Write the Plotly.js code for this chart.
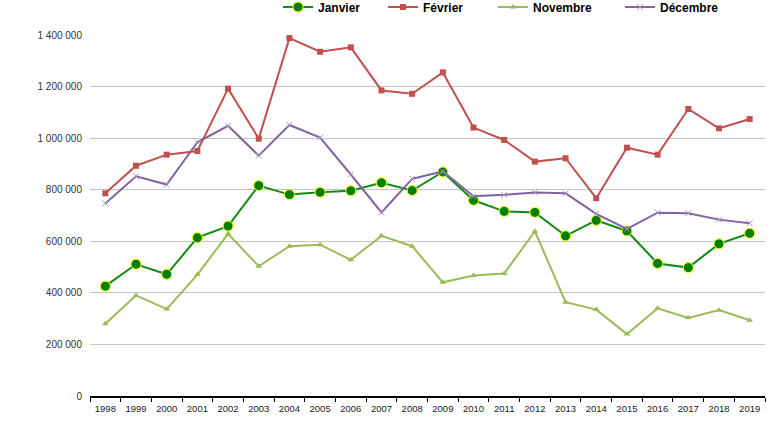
<!DOCTYPE html>
<html>
<head>
<meta charset="utf-8">
<script src="https://cdn.plot.ly/plotly-3.0.1.min.js"></script>
<style>html,body{margin:0;padding:0;background:#fff;}#chart{width:770px;height:437px;}</style>
</head>
<body>
<div id="chart"></div>
<script>
const years = ["1998","1999","2000","2001","2002","2003","2004","2005","2006","2007","2008","2009","2010","2011","2012","2013","2014","2015","2016","2017","2018","2019"];
const janvier = [426000, 511000, 472000, 614000, 659000, 816000, 781000, 790000, 796000, 827000, 797000, 869000, 759000, 716000, 712000, 621000, 681000, 640000, 514000, 498000, 590000, 631000];
const fevrier = [786000, 893000, 936000, 950000, 1192000, 998000, 1388000, 1335000, 1352000, 1185000, 1172000, 1255000, 1041000, 993000, 909000, 922000, 767000, 963000, 936000, 1113000, 1038000, 1074000];
const novembre = [280000, 390000, 337000, 471000, 629000, 503000, 581000, 587000, 528000, 621000, 581000, 441000, 467000, 475000, 639000, 364000, 335000, 240000, 340000, 303000, 333000, 294000];
const decembre = [747000, 852000, 820000, 984000, 1048000, 932000, 1051000, 1002000, 859000, 712000, 842000, 871000, 775000, 780000, 789000, 786000, 706000, 648000, 711000, 709000, 684000, 670000];
const seriesNames = ["Janvier", "Février", "Novembre", "Décembre"];

const FONT = '"Liberation Sans", Arial, sans-serif';

const traces = [
  {x: years, y: janvier, name: seriesNames[0], type: 'scatter', mode: 'lines+markers', legend: 'legend',
   line: {color: '#138a13', width: 2},
   marker: {symbol: 'circle', size: 10, color: '#008000', line: {color: '#ffff00', width: 1}}},
  {x: years, y: fevrier, name: seriesNames[1], type: 'scatter', mode: 'lines+markers', legend: 'legend2',
   line: {color: '#c0504d', width: 2},
   marker: {symbol: 'square', size: 6, color: '#c0504d'}},
  {x: years, y: novembre, name: seriesNames[2], type: 'scatter', mode: 'lines+markers', legend: 'legend3',
   line: {color: '#9bbb59', width: 2},
   marker: {symbol: 'triangle-up', size: 6, color: '#9bbb59'}},
  {x: years, y: decembre, name: seriesNames[3], type: 'scatter', mode: 'lines+markers', legend: 'legend4',
   line: {color: '#8064a2', width: 2},
   marker: {symbol: 'x-thin', size: 6, color: '#a898c8', line: {color: '#a898c8', width: 1}}}
];

function leg(x) {
  return {x: x, y: 1 - 7/437, xref: 'container', yref: 'container', xanchor: 'left', yanchor: 'middle',
    orientation: 'h', bgcolor: 'rgba(0,0,0,0)', borderwidth: 0, itemwidth: 30,
    font: {family: FONT, size: 12, color: '#000', weight: 'bold'}};
}

const layout = {
  width: 770, height: 437,
  margin: {l: 90, r: 5, t: 35, b: 41},
  paper_bgcolor: '#fff', plot_bgcolor: '#fff',
  separators: ', ',
  font: {family: FONT, color: '#333'},
  showlegend: true,
  legend: leg(278/770),
  legend2: leg(383/770),
  legend3: leg(493/770),
  legend4: leg(620/770),
  xaxis: {
    type: 'category', range: [-0.5, 21.5], fixedrange: true,
    showline: true, linecolor: '#000', linewidth: 1.5,
    ticks: 'outside', tickson: 'boundaries', ticklen: 4, tickcolor: '#000', tickwidth: 1,
    ticklabelstandoff: 3,
    showgrid: false, zeroline: false,
    tickfont: {family: FONT, size: 9.5, color: '#222'}
  },
  yaxis: {
    range: [0, 1400000], dtick: 200000, tick0: 0, tickformat: ',d',
    showline: false, zeroline: false,
    showgrid: true, gridcolor: '#c4c4c4', gridwidth: 1,
    ticks: 'outside', ticklen: 5, tickcolor: 'rgba(0,0,0,0)',
    tickfont: {family: FONT, size: 10, color: '#333'}
  }
};

Plotly.newPlot('chart', traces, layout, {displayModeBar: false, staticPlot: true});
</script>
</body>
</html>
